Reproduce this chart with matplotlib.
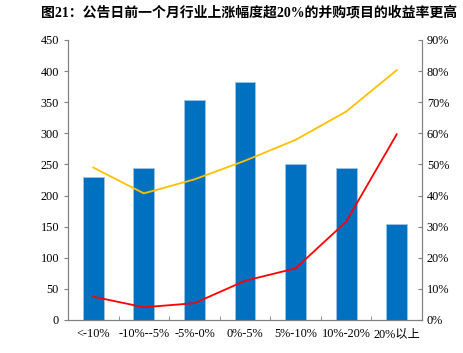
import matplotlib.pyplot as plt
import numpy as np
from matplotlib.ticker import MultipleLocator, FuncFormatter

plt.rcParams['font.family'] = ['Liberation Serif', 'Noto Sans CJK SC']

categories = ['<-10%', '-10%--5%', '-5%-0%', '0%-5%', '5%-10%', '10%-20%', '20%以上']
counts = [230, 245, 353, 382, 250, 244, 155]
yellow_pct = [49.0, 40.7, 45.2, 51.2, 57.9, 67.0, 80.3]
red_pct = [7.5, 4.1, 5.4, 12.6, 16.6, 31.6, 59.7]

fig = plt.figure(figsize=(4.64, 3.53), dpi=100)
ax = fig.add_axes([68 / 464, 33 / 353, 354 / 464, 280 / 353])
ax2 = ax.twinx()

x = np.arange(len(categories))
ax.bar(x, counts, width=0.41, color='#0070C0', edgecolor='#9DC3E6', linewidth=0.6, zorder=2)
ax2.plot(x, yellow_pct, color='#FFC000', linewidth=1.3)
ax2.plot(x, red_pct, color='#FF0000', linewidth=1.3)

ax.set_xlim(-0.5, len(categories) - 0.5)
ax.set_ylim(0, 450)
ax.yaxis.set_major_locator(MultipleLocator(50))
ax2.set_ylim(0, 90)
ax2.yaxis.set_major_locator(MultipleLocator(10))
ax2.yaxis.set_major_formatter(FuncFormatter(lambda v, p: f'{v:.0f}%'))

ax.set_xticks(x)
ax.set_xticklabels(categories)
ax.set_xticks(np.arange(len(categories) + 1) - 0.5, minor=True)
ax.tick_params(axis='x', which='major', length=0, labelsize=8.8, pad=6)
ax.tick_params(axis='x', which='minor', direction='in', length=3, color='#808080')
ax.tick_params(axis='y', direction='out', length=3, color='#808080', labelsize=8.8)
ax2.tick_params(axis='y', direction='in', length=3, color='#808080', labelsize=8.8)

for a in (ax, ax2):
    a.spines['top'].set_visible(False)
    for s in ('left', 'right', 'bottom'):
        a.spines[s].set_color('#808080')
        a.spines[s].set_linewidth(0.8)

fig.text(0.537, 0.965, '图21：公告日前一个月行业上涨幅度超20%的并购项目的收益率更高',
         ha='center', va='center', fontsize=10, fontweight='bold')

fig.savefig('out.png', dpi=100)
